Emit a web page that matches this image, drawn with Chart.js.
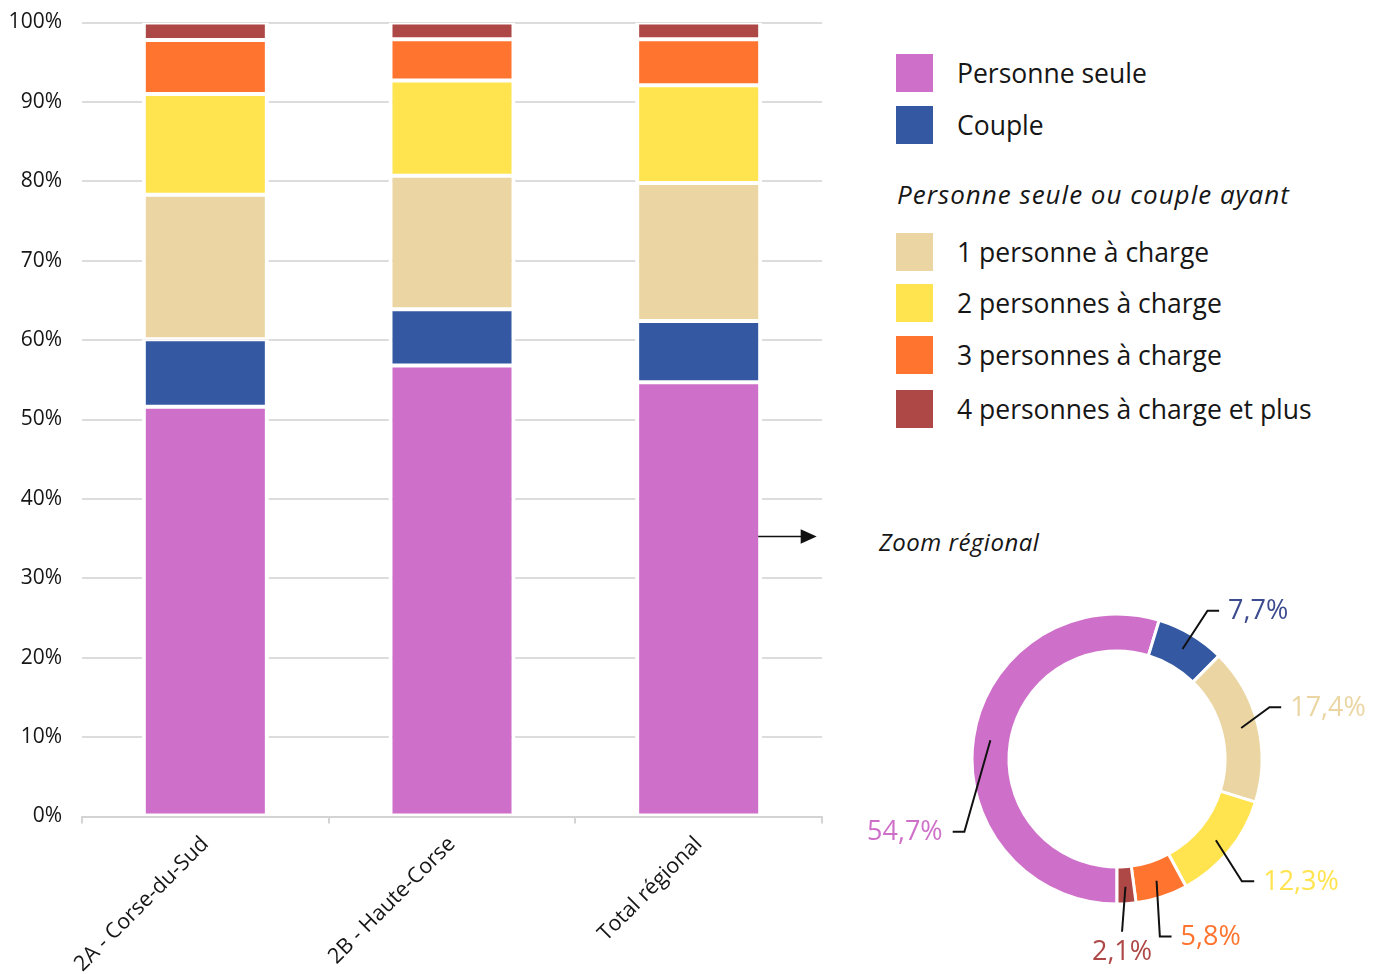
<!DOCTYPE html>
<html><head><meta charset="utf-8">
<script src="https://cdn.jsdelivr.net/npm/chart.js@4"></script>
<style>
html,body{margin:0;padding:0;background:#fff;width:1378px;height:974px;overflow:hidden;font-family:'Open Sans',sans-serif;color:#161616}
#bar{position:absolute;left:0;top:0}
#donut{position:absolute;left:860px;top:580px}
.sq{position:absolute;left:896px;width:37px;height:38px}
.lt{position:absolute;left:957px;height:38px;line-height:38px;font-size:26.5px;white-space:nowrap}
#head{position:absolute;left:897px;top:176px;font-size:26px;letter-spacing:1px;font-style:italic;white-space:nowrap;line-height:36px}
#zoom{position:absolute;left:879px;top:524px;font-size:24px;letter-spacing:0.5px;font-style:italic;white-space:nowrap;line-height:36px}
</style></head><body>
<canvas id="bar" width="830" height="974"></canvas>
<canvas id="donut" width="518" height="394"></canvas>
<div id="legend"></div>
<div id="head">Personne seule ou couple ayant</div>
<div id="zoom">Zoom régional</div>
<script>
// ---- Data ----
const categories = ['2A - Corse-du-Sud', '2B - Haute-Corse', 'Total régional'];
const personneSeule = [51.6, 56.8, 54.7];
const couple = [8.5, 7.1, 7.7];
const unePersonne = [18.2, 16.8, 17.4];
const deuxPersonnes = [12.7, 12.0, 12.3];
const troisPersonnes = [6.8, 5.2, 5.8];
const quatrePlus = [2.2, 2.1, 2.1];
const seriesNames = ['Personne seule', 'Couple', '1 personne à charge', '2 personnes à charge', '3 personnes à charge', '4 personnes à charge et plus'];
const yTickValues = [0, 10, 20, 30, 40, 50, 60, 70, 80, 90, 100];

// ---- Styles ----
const seriesColors = ['#CE70C9', '#3459A2', '#EBD6A3', '#FFE450', '#FF742F', '#AE4847'];
const labelColors = ['#CE70C9', '#3D4B8F', '#EBD6A3', '#FFE450', '#FF742F', '#AE4847'];
const legendTops = [54, 106, 233, 284, 336, 390];
const FONT = "'Open Sans', sans-serif";
const allSeries = [personneSeule, couple, unePersonne, deuxPersonnes, troisPersonnes, quatrePlus];

// Legend (HTML)
const lg = document.getElementById('legend');
seriesNames.forEach((n, i) => {
  const s = document.createElement('div'); s.className = 'sq';
  s.style.top = legendTops[i] + 'px'; s.style.background = seriesColors[i]; lg.appendChild(s);
  const t = document.createElement('div'); t.className = 'lt';
  t.style.top = legendTops[i] + 'px'; t.textContent = n; lg.appendChild(t);
});

const arrowPlugin = {
  id: 'arrow',
  afterDraw(chart) {
    const bar = chart.getDatasetMeta(0).data[2];
    const ctx = chart.ctx;
    const x0 = bar.x + bar.width / 2 - 4;
    const y = Math.round(chart.scales.y.getPixelForValue(35.3)) + 0.5;
    const x1 = x0 + 58.5;
    ctx.save();
    ctx.strokeStyle = '#111'; ctx.fillStyle = '#111'; ctx.lineWidth = 1.5;
    ctx.beginPath(); ctx.moveTo(x0, y); ctx.lineTo(x1 - 14, y); ctx.stroke();
    ctx.beginPath(); ctx.moveTo(x1 - 16, y - 7.3); ctx.lineTo(x1, y); ctx.lineTo(x1 - 16, y + 7.3); ctx.closePath(); ctx.fill();
    ctx.restore();
  }
};

new Chart(document.getElementById('bar'), {
  type: 'bar',
  data: {
    labels: categories,
    datasets: allSeries.map((d, i) => ({
      label: seriesNames[i], data: d, backgroundColor: seriesColors[i],
      borderColor: '#ffffff', borderWidth: {top: 2, bottom: 2, left: 4, right: 4}, borderSkipped: false,
      barPercentage: 0.515, categoryPercentage: 1
    }))
  },
  options: {
    responsive: false, animation: false, devicePixelRatio: 1, events: [],
    layout: {padding: {top: 22.5, right: 8, left: 0, bottom: 0}},
    plugins: {legend: {display: false}, tooltip: {enabled: false}},
    scales: {
      x: {
        stacked: true, offset: true,
        grid: {offset: true, drawOnChartArea: false, drawTicks: true, tickLength: 7, color: '#d4d4d4', lineWidth: 2},
        border: {display: true, color: '#d4d4d4', width: 2},
        ticks: {maxRotation: 45, minRotation: 45, autoSkip: false, font: {size: 21.5, family: FONT}, color: '#161616', padding: 8},
        afterFit: s => { s.height = 157.5; }
      },
      y: {
        stacked: true, min: 0, max: 100,
        afterBuildTicks: s => { s.ticks = yTickValues.map(v => ({value: v})); },
        ticks: {callback: v => v + '%', font: {size: 21, family: FONT}, color: '#161616', padding: 20},
        grid: {color: '#dcdcdc', lineWidth: 2, drawTicks: false},
        border: {display: false},
        afterFit: s => { s.width = 82; s.paddingTop = 0; s.paddingBottom = 0; }
      }
    }
  },
  plugins: [arrowPlugin]
});

// ---- Donut (regional zoom) ----
const regionalIndex = categories.indexOf('Total régional');
const donutValues = allSeries.map(s => s[regionalIndex]);
const donutLabelLayout = [
  {dx: -26, dy: 91.6, h: -11.7},
  {dx: 25, dy: -38.3, h: 11.6},
  {dx: 28.3, dy: -20.7, h: 11.7},
  {dx: 26, dy: 41, h: 12.3},
  {dx: 3.3, dy: 55.7, h: 11.7},
  {dx: -3.4, dy: 45, h: 0, below: true}
];

const donutLabels = {
  id: 'donutLabels',
  afterDraw(chart) {
    const ctx = chart.ctx;
    const arcs = chart.getDatasetMeta(0).data;
    ctx.save();
    ctx.font = '27px ' + FONT;
    arcs.forEach((a, i) => {
      const p = a.getProps(['x', 'y', 'startAngle', 'endAngle', 'innerRadius', 'outerRadius']);
      const mid = (p.startAngle + p.endAngle) / 2;
      const r = (p.innerRadius + p.outerRadius) / 2 + 1.5;
      const ax = p.x + r * Math.cos(mid), ay = p.y + r * Math.sin(mid);
      const L = donutLabelLayout[i];
      const ex = ax + L.dx, ey = ay + L.dy;
      ctx.strokeStyle = '#111'; ctx.lineWidth = 2;
      ctx.beginPath(); ctx.moveTo(ax, ay); ctx.lineTo(ex, ey);
      if (L.h) ctx.lineTo(ex + L.h, ey);
      ctx.stroke();
      const txt = donutValues[i].toFixed(1).replace('.', ',') + '%';
      ctx.fillStyle = labelColors[i];
      ctx.textBaseline = 'middle';
      if (L.below) { ctx.textAlign = 'center'; ctx.fillText(txt, ex, ey + 21); }
      else if (L.h > 0) { ctx.textAlign = 'left'; ctx.fillText(txt, ex + L.h + 9, ey + 1); }
      else { ctx.textAlign = 'right'; ctx.fillText(txt, ex + L.h - 10, ey + 1); }
    });
    ctx.restore();
  }
};

new Chart(document.getElementById('donut'), {
  type: 'doughnut',
  data: {
    labels: seriesNames,
    datasets: [{data: donutValues, backgroundColor: seriesColors, borderColor: '#ffffff', borderWidth: 3, hoverOffset: 0}]
  },
  options: {
    responsive: false, animation: false, devicePixelRatio: 1, events: [],
    rotation: 180, radius: 145, cutout: '74.5%',
    layout: {padding: {left: 107, top: 29, right: 111, bottom: 65}},
    plugins: {legend: {display: false}, tooltip: {enabled: false}}
  },
  plugins: [donutLabels]
});
</script>
</body></html>
